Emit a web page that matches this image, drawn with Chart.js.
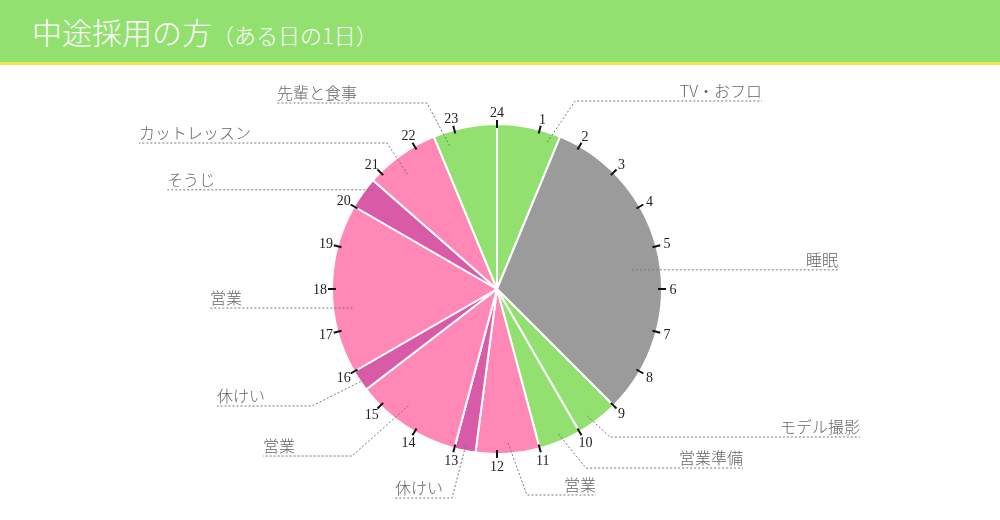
<!DOCTYPE html>
<html lang="ja">
<head>
<meta charset="utf-8">
<script src="https://cdn.jsdelivr.net/npm/chart.js@4.4.1/dist/chart.umd.min.js"></script>
<style>
  html, body { margin: 0; padding: 0; background: #fff; }
  body { width: 1000px; height: 520px; position: relative; overflow: hidden; }
  #wrap { position: absolute; left: 0; top: 0; width: 1000px; height: 520px; }
  #title {
    position: absolute; left: 0; top: 0; width: 1000px; height: 62px;
    background: #92E070; border-bottom: 3px solid #F4E64A; z-index: 2;
    font-family: "Noto Sans CJK JP", sans-serif; font-weight: 300; color: #fff;
    white-space: nowrap;
  }
  #title .main { position: absolute; left: 32px; top: 13px; font-size: 30px; line-height: 36px; }
  #title .sub { font-size: 22px; }
</style>
</head>
<body>
<div id="title"><div class="main">中途採用の方<span class="sub">（ある日の1日）</span></div></div>
<div id="wrap"><canvas id="c"></canvas></div>
<script>
// ---- data ----
const categories = ['TV・おフロ', '睡眠', 'モデル撮影', '営業準備', '営業', '休けい', '営業', '休けい', '営業', 'そうじ', 'カットレッスン', '先輩と食事'];
const hours = [1.5, 7.5, 1, 1, 1.5, 0.5, 2.5, 0.5, 4, 0.75, 1.75, 1.5];
const hourTickLabels = ['1','2','3','4','5','6','7','8','9','10','11','12','13','14','15','16','17','18','19','20','21','22','23','24'];

// ---- styles ----
const GREEN = '#92E070', GREY = '#9B9B9B', PINK = '#FF88B6', DPINK = '#D95AA6';
const sliceColors = [GREEN, GREY, GREEN, GREEN, PINK, DPINK, PINK, DPINK, PINK, DPINK, PINK, GREEN];

// ---- label layout (anchor in hours / radius fraction, elbow & text end in px) ----
const labelLayout = [
  { h: 1.26,  f: 0.94,  elbow: [575, 101], end: 762, align: 'right' },
  { h: 5.46,  f: 0.825, elbow: null,       end: 838, align: 'right' },
  { h: 9.64,  f: 0.943, elbow: [610, 437], end: 860, align: 'right' },
  { h: 10.47, f: 0.954, elbow: [586, 468], end: 743, align: 'right' },
  { h: 11.73, f: 0.935, elbow: [527, 495], end: 596, align: 'right' },
  { h: 12.75, f: 0.949, elbow: [452, 498], end: 395, align: 'left' },
  { h: 14.48, f: 0.888, elbow: [352, 456], end: 263, align: 'left' },
  { h: 15.71, f: 0.974, elbow: [312, 406], end: 217, align: 'left' },
  { h: 17.5,  f: 0.884, elbow: null,       end: 210, align: 'left' },
  { h: 20.58, f: 0.961, elbow: null,       end: 167, align: 'left' },
  { h: 21.47, f: 0.882, elbow: [387, 143], end: 139, align: 'left' },
  { h: 22.78, f: 0.914, elbow: [427, 103], end: 277, align: 'left' }
];

const clockPlugin = {
  id: 'clock',
  afterDatasetsDraw(chart) {
    const meta = chart.getDatasetMeta(0);
    if (!meta.data.length) return;
    const arc = meta.data[0];
    const cx = arc.x, cy = arc.y, r = arc.outerRadius;
    const total = hours.reduce((a, b) => a + b, 0);
    const pt = (hr, rad) => {
      const a = (hr / total) * Math.PI * 2;
      return [cx + rad * Math.sin(a), cy - rad * Math.cos(a)];
    };
    const ctx = chart.ctx;
    ctx.save();
    // hour ticks and numbers
    ctx.strokeStyle = '#111';
    ctx.lineWidth = 2;
    ctx.fillStyle = '#222';
    ctx.font = '14px "Liberation Serif", "DejaVu Serif", serif';
    ctx.textAlign = 'center';
    ctx.textBaseline = 'middle';
    hourTickLabels.forEach((lab, i) => {
      const hr = i + 1;
      const [x1, y1] = pt(hr, r - 4);
      const [x2, y2] = pt(hr, r + 4);
      ctx.beginPath(); ctx.moveTo(x1, y1); ctx.lineTo(x2, y2); ctx.stroke();
      const [tx, ty] = pt(hr, r + 11 + (lab.length > 1 ? 1 : 0));
      ctx.fillText(lab, tx, ty + 1);
    });
    // leader lines + labels
    ctx.font = '300 16px "Noto Sans CJK JP", sans-serif';
    ctx.textBaseline = 'alphabetic';
    categories.forEach((name, i) => {
      const L = labelLayout[i];
      const [ax, ay] = pt(L.h, r * L.f);
      const lineY = L.elbow ? L.elbow[1] : ay;
      ctx.strokeStyle = '#777';
      ctx.lineWidth = 1;
      ctx.setLineDash([2, 2]);
      ctx.beginPath();
      ctx.moveTo(ax, ay);
      if (L.elbow) ctx.lineTo(L.elbow[0], L.elbow[1]);
      ctx.lineTo(L.end, lineY);
      ctx.stroke();
      ctx.setLineDash([]);
      ctx.fillStyle = '#666';
      ctx.textAlign = L.align;
      ctx.fillText(name, L.end, lineY - 4);
    });
    ctx.restore();
  }
};

new Chart(document.getElementById('c'), {
  type: 'pie',
  data: {
    labels: categories,
    datasets: [{
      data: hours,
      backgroundColor: sliceColors,
      borderColor: '#ffffff',
      borderWidth: 2
    }]
  },
  options: {
    responsive: true,
    maintainAspectRatio: false,
    animation: false,
    layout: { padding: { top: 123, bottom: 65, left: 0, right: 6 } },
    plugins: { legend: { display: false }, tooltip: { enabled: false }, title: { display: false } }
  },
  plugins: [clockPlugin]
});
</script>
</body>
</html>
